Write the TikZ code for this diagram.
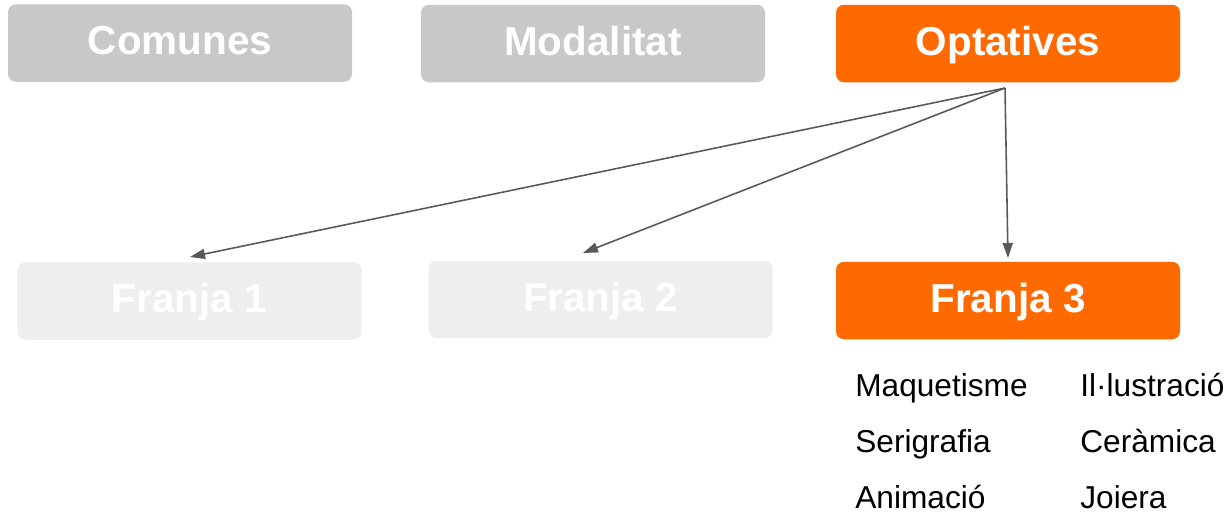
\documentclass[tikz,border=0pt]{standalone}
\usepackage{fontspec}
\setmainfont{Liberation Sans}
\usetikzlibrary{arrows.meta}
\definecolor{boxgray}{HTML}{C8C9C6}
\definecolor{palegray}{HTML}{EEEEEE}
\definecolor{orangebox}{HTML}{FF6A00}
\definecolor{linegray}{HTML}{595959}
\tikzset{
  bloc/.style={rectangle,rounded corners=.16cm,minimum width=6.88cm,minimum height=1.55cm,
    text=white,font=\bfseries\fontsize{23}{27}\selectfont,inner sep=0pt,
    text height=.58cm,text depth=.12cm},
  fletxa/.style={draw=linegray,line width=.9pt,-{Triangle[length=.3cm,width=.2cm]}},
  materia/.style={anchor=base west,font=\fontsize{18}{22}\selectfont,inner sep=0pt}
}
\begin{document}
\begin{tikzpicture}
  \useasboundingbox (0,0) rectangle (24.62,-10.32);
  % fila de dalt
  \draw(3.60,-0.86) node[bloc,fill=boxgray] (C) {Comunes};
  \draw(11.86,-0.87) node[bloc,fill=boxgray] (M) {Modalitat};
  \draw(20.16,-0.87) node[bloc,fill=orangebox] (O) {Optatives};
  % franges
  \draw(3.79,-6.02) node[bloc,fill=palegray] (F1) {Franja 1};
  \draw(12.01,-5.99) node[bloc,fill=palegray] (F2) {Franja 2};
  \draw(20.16,-6.01) node[bloc,fill=orangebox] (F3) {Franja 3};
  \coordinate (P) at (20.10,-1.76);
  \coordinate (A1) at (3.80,-5.14);
  \coordinate (A2) at (11.66,-5.06);
  \coordinate (A3) at (20.16,-5.16);
  \draw[fletxa] (P) -- (A1);
  \draw[fletxa] (P) -- (A2);
  \draw[fletxa] (P) -- (A3);
  % optatives de la franja 3
  \node[materia] (m1) at (17.10,-7.92) {Maquetisme};
  \node[materia] (m2) at (17.10,-9.04) {Serigrafia};
  \node[materia] (m3) at (17.10,-10.16) {Animació};
  \node[materia] (m4) at (21.60,-7.92) {Il·lustració};
  \node[materia] (m5) at (21.60,-9.04) {Ceràmica};
  \node[materia] (m6) at (21.60,-10.16) {Joiera};
\end{tikzpicture}
\end{document}
